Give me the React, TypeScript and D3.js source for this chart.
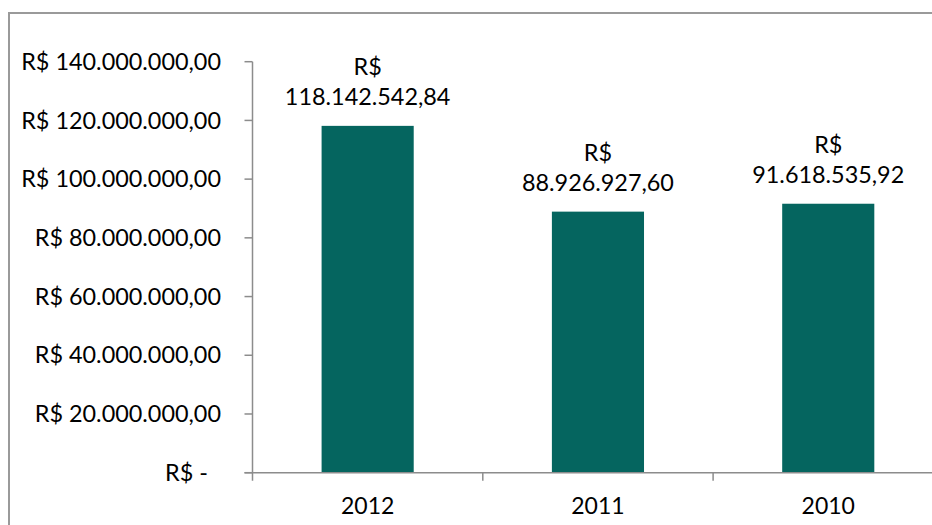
import React from "react";
import * as d3 from "d3";

const categories = ["2012", "2011", "2010"];
const values = [118142542.84, 88926927.6, 91618535.92];
const yTicks = [0, 20000000, 40000000, 60000000, 80000000, 100000000, 120000000, 140000000];

const W = 932;
const H = 525;
const FONT = "Lato, 'Open Sans', sans-serif";
const BAR = "#05655F";
const AXIS = "#8c8c8c";

function fmtBR(v: number): string {
  const fixed = v.toFixed(2);
  const [intPart, dec] = fixed.split(".");
  const withDots = intPart.replace(/\B(?=(\d{3})+(?!\d))/g, ".");
  return `${withDots},${dec}`;
}

export default function App() {
  const x0 = 252.5;
  const step = 230.3;
  const x = d3
    .scaleBand<string>()
    .domain(categories)
    .range([x0, x0 + step * categories.length])
    .padding(0);
  const y = d3.scaleLinear().domain([0, 140000000]).range([472.7, 61.7]);
  const bw = x.bandwidth() * 0.4;
  const baseY = y(0);

  return (
    <svg
      width={W}
      height={H}
      style={{ position: "absolute", left: 0, top: 0, background: "#fff" }}
      fontFamily={FONT}
    >
      <rect x={0} y={0} width={W} height={H} fill="#fff" />
      {/* outer chart border */}
      <rect x={9} y={13} width={W + 20} height={H + 20} fill="none" stroke="#9a9a9a" strokeWidth={2} />

      {/* bars */}
      {categories.map((c, i) => {
        const cx = (x(c) as number) + x.bandwidth() / 2;
        return (
          <rect
            key={c}
            x={cx - bw / 2}
            y={y(values[i])}
            width={bw}
            height={baseY - y(values[i])}
            fill={BAR}
          />
        );
      })}

      {/* y axis */}
      <line x1={x0} x2={x0} y1={y(140000000)} y2={baseY + 8} stroke={AXIS} strokeWidth={1.5} />
      {yTicks.map((t) => (
        <g key={t}>
          <line x1={x0 - 8} x2={x0} y1={y(t)} y2={y(t)} stroke={AXIS} strokeWidth={1.5} />
          <text
            x={t === 0 ? 208 : 221}
            y={y(t)}
            dy="0.35em"
            textAnchor="end"
            fontSize={23.4}
            fill="#000"
          >
            {t === 0 ? "R$ -" : `R$ ${fmtBR(t)}`}
          </text>
        </g>
      ))}

      {/* x axis */}
      <line x1={x0 - 8} x2={W} y1={baseY} y2={baseY} stroke={AXIS} strokeWidth={1.5} />
      {categories.map((c) => (
        <line
          key={"t" + c}
          x1={(x(c) as number) + x.bandwidth()}
          x2={(x(c) as number) + x.bandwidth()}
          y1={baseY}
          y2={baseY + 8}
          stroke={AXIS}
          strokeWidth={1.5}
        />
      ))}
      {categories.map((c) => (
        <text
          key={"l" + c}
          x={(x(c) as number) + x.bandwidth() / 2}
          y={514}
          textAnchor="middle"
          fontSize={23}
          fill="#000"
        >
          {c}
        </text>
      ))}

      {/* data labels */}
      {categories.map((c, i) => {
        const cx = (x(c) as number) + x.bandwidth() / 2;
        const top = y(values[i]);
        return (
          <g key={"d" + c}>
            <text x={cx} y={top - 51} textAnchor="middle" fontSize={23.4} fill="#000">
              R$
            </text>
            <text x={cx} y={top - 21} textAnchor="middle" fontSize={23.4} fill="#000">
              {fmtBR(values[i])}
            </text>
          </g>
        );
      })}
    </svg>
  );
}
